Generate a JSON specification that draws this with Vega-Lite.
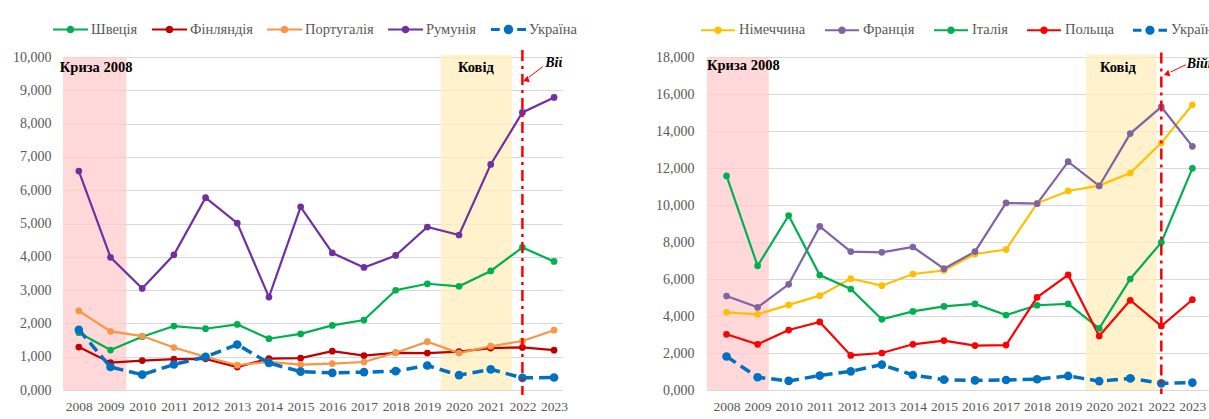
{
  "$schema": "https://vega.github.io/schema/vega-lite/v6.json",
  "background": "white",
  "padding": {"left": 12, "top": 12, "right": 0, "bottom": 0},
  "bounds": "flush",
  "spacing": 145,
  "config": {
    "font": "Liberation Serif",
    "view": {"stroke": null},
    "axis": {"labelFont": "Liberation Serif", "labelColor": "#595959", "labelFontSize": 14, "ticks": false, "domain": false, "title": null, "gridColor": "#D9D9D9", "gridWidth": 1, "labelOverlap": false}
  },
  "datasets": {
    "left": [
      {"year":2008,"series":"Швеція","value":1720},{"year":2009,"series":"Швеція","value":1200},{"year":2010,"series":"Швеція","value":1600},{"year":2011,"series":"Швеція","value":1920},{"year":2012,"series":"Швеція","value":1840},{"year":2013,"series":"Швеція","value":1970},{"year":2014,"series":"Швеція","value":1540},{"year":2015,"series":"Швеція","value":1685},{"year":2016,"series":"Швеція","value":1940},{"year":2017,"series":"Швеція","value":2100},{"year":2018,"series":"Швеція","value":2995},{"year":2019,"series":"Швеція","value":3190},{"year":2020,"series":"Швеція","value":3115},{"year":2021,"series":"Швеція","value":3575},{"year":2022,"series":"Швеція","value":4280},{"year":2023,"series":"Швеція","value":3860},
      {"year":2008,"series":"Фінляндія","value":1290},{"year":2009,"series":"Фінляндія","value":820},{"year":2010,"series":"Фінляндія","value":885},{"year":2011,"series":"Фінляндія","value":925},{"year":2012,"series":"Фінляндія","value":935},{"year":2013,"series":"Фінляндія","value":690},{"year":2014,"series":"Фінляндія","value":945},{"year":2015,"series":"Фінляндія","value":955},{"year":2016,"series":"Фінляндія","value":1165},{"year":2017,"series":"Фінляндія","value":1035},{"year":2018,"series":"Фінляндія","value":1115},{"year":2019,"series":"Фінляндія","value":1110},{"year":2020,"series":"Фінляндія","value":1155},{"year":2021,"series":"Фінляндія","value":1260},{"year":2022,"series":"Фінляндія","value":1280},{"year":2023,"series":"Фінляндія","value":1195},
      {"year":2008,"series":"Португалія","value":2375},{"year":2009,"series":"Португалія","value":1760},{"year":2010,"series":"Португалія","value":1620},{"year":2011,"series":"Португалія","value":1275},{"year":2012,"series":"Португалія","value":995},{"year":2013,"series":"Португалія","value":745},{"year":2014,"series":"Португалія","value":845},{"year":2015,"series":"Португалія","value":760},{"year":2016,"series":"Португалія","value":795},{"year":2017,"series":"Португалія","value":840},{"year":2018,"series":"Португалія","value":1120},{"year":2019,"series":"Португалія","value":1450},{"year":2020,"series":"Португалія","value":1110},{"year":2021,"series":"Португалія","value":1315},{"year":2022,"series":"Португалія","value":1470},{"year":2023,"series":"Португалія","value":1795},
      {"year":2008,"series":"Румунія","value":6575},{"year":2009,"series":"Румунія","value":3985},{"year":2010,"series":"Румунія","value":3050},{"year":2011,"series":"Румунія","value":4060},{"year":2012,"series":"Румунія","value":5775},{"year":2013,"series":"Румунія","value":5010},{"year":2014,"series":"Румунія","value":2790},{"year":2015,"series":"Румунія","value":5500},{"year":2016,"series":"Румунія","value":4115},{"year":2017,"series":"Румунія","value":3680},{"year":2018,"series":"Румунія","value":4040},{"year":2019,"series":"Румунія","value":4895},{"year":2020,"series":"Румунія","value":4655},{"year":2021,"series":"Румунія","value":6775},{"year":2022,"series":"Румунія","value":8335},{"year":2023,"series":"Румунія","value":8785},
      {"year":2008,"series":"Україна","value":1810},{"year":2009,"series":"Україна","value":690},{"year":2010,"series":"Україна","value":460},{"year":2011,"series":"Україна","value":765},{"year":2012,"series":"Україна","value":995},{"year":2013,"series":"Україна","value":1365},{"year":2014,"series":"Україна","value":810},{"year":2015,"series":"Україна","value":550},{"year":2016,"series":"Україна","value":515},{"year":2017,"series":"Україна","value":535},{"year":2018,"series":"Україна","value":565},{"year":2019,"series":"Україна","value":735},{"year":2020,"series":"Україна","value":445},{"year":2021,"series":"Україна","value":620},{"year":2022,"series":"Україна","value":365},{"year":2023,"series":"Україна","value":375}
    ],
    "right": [
      {"year":2008,"series":"Німеччина","value":4200},{"year":2009,"series":"Німеччина","value":4090},{"year":2010,"series":"Німеччина","value":4600},{"year":2011,"series":"Німеччина","value":5100},{"year":2012,"series":"Німеччина","value":6020},{"year":2013,"series":"Німеччина","value":5640},{"year":2014,"series":"Німеччина","value":6270},{"year":2015,"series":"Німеччина","value":6460},{"year":2016,"series":"Німеччина","value":7350},{"year":2017,"series":"Німеччина","value":7590},{"year":2018,"series":"Німеччина","value":10090},{"year":2019,"series":"Німеччина","value":10760},{"year":2020,"series":"Німеччина","value":11050},{"year":2021,"series":"Німеччина","value":11730},{"year":2022,"series":"Німеччина","value":13360},{"year":2023,"series":"Німеччина","value":15420},
      {"year":2008,"series":"Франція","value":5080},{"year":2009,"series":"Франція","value":4470},{"year":2010,"series":"Франція","value":5710},{"year":2011,"series":"Франція","value":8840},{"year":2012,"series":"Франція","value":7480},{"year":2013,"series":"Франція","value":7440},{"year":2014,"series":"Франція","value":7730},{"year":2015,"series":"Франція","value":6560},{"year":2016,"series":"Франція","value":7480},{"year":2017,"series":"Франція","value":10110},{"year":2018,"series":"Франція","value":10070},{"year":2019,"series":"Франція","value":12340},{"year":2020,"series":"Франція","value":11030},{"year":2021,"series":"Франція","value":13860},{"year":2022,"series":"Франція","value":15300},{"year":2023,"series":"Франція","value":13170},
      {"year":2008,"series":"Італія","value":11570},{"year":2009,"series":"Італія","value":6710},{"year":2010,"series":"Італія","value":9430},{"year":2011,"series":"Італія","value":6210},{"year":2012,"series":"Італія","value":5460},{"year":2013,"series":"Італія","value":3820},{"year":2014,"series":"Італія","value":4250},{"year":2015,"series":"Італія","value":4520},{"year":2016,"series":"Італія","value":4650},{"year":2017,"series":"Італія","value":4050},{"year":2018,"series":"Італія","value":4580},{"year":2019,"series":"Італія","value":4650},{"year":2020,"series":"Італія","value":3330},{"year":2021,"series":"Італія","value":6000},{"year":2022,"series":"Італія","value":7980},{"year":2023,"series":"Італія","value":11980},
      {"year":2008,"series":"Польща","value":3010},{"year":2009,"series":"Польща","value":2470},{"year":2010,"series":"Польща","value":3240},{"year":2011,"series":"Польща","value":3680},{"year":2012,"series":"Польща","value":1870},{"year":2013,"series":"Польща","value":2000},{"year":2014,"series":"Польща","value":2470},{"year":2015,"series":"Польща","value":2670},{"year":2016,"series":"Польща","value":2400},{"year":2017,"series":"Польща","value":2430},{"year":2018,"series":"Польща","value":5010},{"year":2019,"series":"Польща","value":6220},{"year":2020,"series":"Польща","value":2920},{"year":2021,"series":"Польща","value":4850},{"year":2022,"series":"Польща","value":3460},{"year":2023,"series":"Польща","value":4880},
      {"year":2008,"series":"Україна","value":1810},{"year":2009,"series":"Україна","value":690},{"year":2010,"series":"Україна","value":490},{"year":2011,"series":"Україна","value":780},{"year":2012,"series":"Україна","value":1010},{"year":2013,"series":"Україна","value":1370},{"year":2014,"series":"Україна","value":810},{"year":2015,"series":"Україна","value":560},{"year":2016,"series":"Україна","value":520},{"year":2017,"series":"Україна","value":540},{"year":2018,"series":"Україна","value":580},{"year":2019,"series":"Україна","value":760},{"year":2020,"series":"Україна","value":480},{"year":2021,"series":"Україна","value":630},{"year":2022,"series":"Україна","value":360},{"year":2023,"series":"Україна","value":400}
    ]
  },
  "resolve": {"scale": {"x": "independent", "y": "independent", "color": "independent"}, "legend": {"color": "independent"}},
  "hconcat": [
    {
      "width": 499,
      "height": 333,
      "encoding": {
        "x": {"field": "year", "type": "quantitative", "scale": {"domain": [2007.5, 2023.25], "nice": false, "zero": false},
              "axis": {"values": [2008,2009,2010,2011,2012,2013,2014,2015,2016,2017,2018,2019,2020,2021,2022,2023], "tickCount": 30, "format": "d", "grid": false, "labelPadding": 9, "labelFontSize": 13.5, "labelFlush": false, "labelOverlap": false, "labelBound": false}},
        "y": {"field": "value", "type": "quantitative", "scale": {"domain": [0, 10000], "nice": false},
              "axis": {"values": [0,1000,2000,3000,4000,5000,6000,7000,8000,9000,10000], "tickCount": 30, "format": "05,d", "grid": true, "labelPadding": 12, "labelOverlap": false}}
      },
      "layer": [
        {
          "data": {"values": [{"year": 2007.5, "year2": 2009.5, "value": 0, "value2": 10000}]},
          "mark": {"type": "rect", "fill": "#FFCCCC", "fillOpacity": 0.75},
          "encoding": {"x2": {"field": "year2"}, "y2": {"field": "value2"}}
        },
        {
          "data": {"values": [{"year": 2019.42, "year2": 2021.67, "value": 0, "value2": 10070}]},
          "mark": {"type": "rect", "fill": "#FFEEBB", "fillOpacity": 0.75},
          "encoding": {"x2": {"field": "year2"}, "y2": {"field": "value2"}}
        },
        {
          "data": {"name": "left"},
          "transform": [{"filter": "datum.series !== 'Україна'"}],
          "mark": {"type": "line", "strokeWidth": 2.2},
          "encoding": {
            "color": {"field": "series", "type": "nominal",
              "scale": {"domain": ["Швеція","Фінляндія","Португалія","Румунія","Україна"], "range": ["#00B050","#C00000","#F79646","#7030A0","#0070C0"]},
              "legend": {
                "orient": "none", "legendX": -10, "legendY": -45, "direction": "horizontal", "title": null,
                "symbolType": "M-1,-0.06H1V0.06H-1ZM-0.22,0A0.22,0.22,0,1,1,0.22,0A0.22,0.22,0,1,1,-0.22,0Z",
                "symbolSize": 1225, "symbolStrokeWidth": 0, "symbolOpacity": 1,
                "labelFont": "Liberation Serif", "labelFontSize": 14.5, "labelColor": "#595959",
                "labelOffset": 3, "columnPadding": 14, "padding": 0,
                "encode": {"symbols": {"update": {
                  "shape": {"signal": "datum.value === 'Україна' ? 'M-1,-0.09H-0.5V0.09H-1ZM0.5,-0.09H1V0.09H0.5ZM-0.27,0A0.27,0.27,0,1,1,0.27,0A0.27,0.27,0,1,1,-0.27,0Z' : 'M-1,-0.06H1V0.06H-1ZM-0.22,0A0.22,0.22,0,1,1,0.22,0A0.22,0.22,0,1,1,-0.22,0Z'"},
                  "fill": {"signal": "{'Швеція':'#00B050','Фінляндія':'#C00000','Португалія':'#F79646','Румунія':'#7030A0','Україна':'#0070C0'}[datum.value]"},
                  "strokeWidth": {"value": 0},
                  "opacity": {"value": 1}
                }}}
              }
            }
          }
        },
        {
          "data": {"name": "left"},
          "transform": [{"filter": "datum.series !== 'Україна'"}],
          "mark": {"type": "point", "filled": true, "size": 45, "opacity": 1},
          "encoding": {"color": {"field": "series", "type": "nominal"}}
        },
        {
          "data": {"name": "left"},
          "transform": [{"filter": "datum.series === 'Україна'"}],
          "mark": {"type": "line", "strokeWidth": 3.5, "strokeDash": [11, 6]},
          "encoding": {"color": {"field": "series", "type": "nominal"}}
        },
        {
          "data": {"name": "left"},
          "transform": [{"filter": "datum.series === 'Україна'"}],
          "mark": {"type": "point", "filled": true, "size": 75, "opacity": 1},
          "encoding": {"color": {"field": "series", "type": "nominal"}}
        },
        {
          "data": {"values": [{"year": 2022, "value": 10210, "value2": -150}]},
          "mark": {"type": "rule", "color": "#FF0000", "strokeWidth": 2.5, "strokeDash": [11, 5, 3, 5]},
          "encoding": {"y2": {"field": "value2"}}
        },
        {
          "data": {"values": [{"year": 2022.64, "year2": 2022.2, "value": 9710, "value2": 9390}]},
          "mark": {"type": "rule", "color": "#FF0000", "strokeWidth": 1},
          "encoding": {"x2": {"field": "year2"}, "y2": {"field": "value2"}}
        },
        {
          "data": {"values": [{"year": 2022.14, "value": 9320}]},
          "mark": {"type": "point", "shape": "triangle", "filled": true, "color": "#FF0000", "size": 45, "angle": 250, "opacity": 1},
          "encoding": {}
        },
        {
          "data": {"values": [{"year": 2007.4, "value": 9670, "t": "Криза 2008"}]},
          "mark": {"type": "text", "align": "left", "baseline": "middle", "font": "Liberation Serif", "fontWeight": "bold", "fontSize": 14.5, "color": "#000000"},
          "encoding": {"text": {"field": "t"}}
        },
        {
          "data": {"values": [{"year": 2020.53, "value": 9670, "t": "Ковід"}]},
          "mark": {"type": "text", "align": "center", "baseline": "middle", "font": "Liberation Serif", "fontWeight": "bold", "fontSize": 14.5, "color": "#000000"},
          "encoding": {"text": {"field": "t"}}
        },
        {
          "data": {"values": [{"year": 2022.72, "value": 9820, "t": "Війна"}]},
          "mark": {"type": "text", "align": "left", "baseline": "middle", "font": "Liberation Serif", "fontWeight": "bold", "fontStyle": "italic", "fontSize": 14, "color": "#000000", "clip": true},
          "encoding": {"text": {"field": "t"}}
        }
      ]
    },
    {
      "width": 504,
      "height": 333,
      "encoding": {
        "x": {"field": "year", "type": "quantitative", "scale": {"domain": [2007.37, 2023.6], "nice": false, "zero": false},
              "axis": {"values": [2008,2009,2010,2011,2012,2013,2014,2015,2016,2017,2018,2019,2020,2021,2022,2023], "tickCount": 30, "format": "d", "grid": false, "labelPadding": 9, "labelFontSize": 13.5, "labelFlush": false, "labelOverlap": false, "labelBound": false}},
        "y": {"field": "value", "type": "quantitative", "scale": {"domain": [0, 18000], "nice": false},
              "axis": {"values": [0,2000,4000,6000,8000,10000,12000,14000,16000,18000], "tickCount": 30, "format": "05,d", "grid": true, "labelPadding": 13, "labelOverlap": false}}
      },
      "layer": [
        {
          "data": {"values": [{"year": 2007.37, "year2": 2009.36, "value": 0, "value2": 18000}]},
          "mark": {"type": "rect", "fill": "#FFCCCC", "fillOpacity": 0.75},
          "encoding": {"x2": {"field": "year2"}, "y2": {"field": "value2"}}
        },
        {
          "data": {"values": [{"year": 2019.57, "year2": 2021.85, "value": 0, "value2": 18130}]},
          "mark": {"type": "rect", "fill": "#FFEEBB", "fillOpacity": 0.75},
          "encoding": {"x2": {"field": "year2"}, "y2": {"field": "value2"}}
        },
        {
          "data": {"name": "right"},
          "transform": [{"filter": "datum.series !== 'Україна'"}],
          "mark": {"type": "line", "strokeWidth": 2.2},
          "encoding": {
            "color": {"field": "series", "type": "nominal",
              "scale": {"domain": ["Німеччина","Франція","Італія","Польща","Україна"], "range": ["#FFC000","#8064A2","#00B050","#FF0000","#0070C0"]},
              "legend": {
                "orient": "none", "legendX": -6, "legendY": -44, "direction": "horizontal", "title": null,
                "symbolType": "M-1,-0.06H1V0.06H-1ZM-0.22,0A0.22,0.22,0,1,1,0.22,0A0.22,0.22,0,1,1,-0.22,0Z",
                "symbolSize": 1156, "symbolStrokeWidth": 0, "symbolOpacity": 1,
                "labelFont": "Liberation Serif", "labelFontSize": 14.5, "labelColor": "#595959",
                "labelOffset": 4, "columnPadding": 19, "padding": 0,
                "encode": {"symbols": {"update": {
                  "shape": {"signal": "datum.value === 'Україна' ? 'M-1,-0.09H-0.5V0.09H-1ZM0.5,-0.09H1V0.09H0.5ZM-0.27,0A0.27,0.27,0,1,1,0.27,0A0.27,0.27,0,1,1,-0.27,0Z' : 'M-1,-0.06H1V0.06H-1ZM-0.22,0A0.22,0.22,0,1,1,0.22,0A0.22,0.22,0,1,1,-0.22,0Z'"},
                  "fill": {"signal": "{'Німеччина':'#FFC000','Франція':'#8064A2','Італія':'#00B050','Польща':'#FF0000','Україна':'#0070C0'}[datum.value]"},
                  "strokeWidth": {"value": 0},
                  "opacity": {"value": 1}
                }}}
              }
            }
          }
        },
        {
          "data": {"name": "right"},
          "transform": [{"filter": "datum.series !== 'Україна'"}],
          "mark": {"type": "point", "filled": true, "size": 45, "opacity": 1},
          "encoding": {"color": {"field": "series", "type": "nominal"}}
        },
        {
          "data": {"name": "right"},
          "transform": [{"filter": "datum.series === 'Україна'"}],
          "mark": {"type": "line", "strokeWidth": 3.5, "strokeDash": [11, 6]},
          "encoding": {"color": {"field": "series", "type": "nominal"}}
        },
        {
          "data": {"name": "right"},
          "transform": [{"filter": "datum.series === 'Україна'"}],
          "mark": {"type": "point", "filled": true, "size": 75, "opacity": 1},
          "encoding": {"color": {"field": "series", "type": "nominal"}}
        },
        {
          "data": {"values": [{"year": 2022, "value": 18240, "value2": -220}]},
          "mark": {"type": "rule", "color": "#FF0000", "strokeWidth": 2.5, "strokeDash": [11, 5, 3, 5]},
          "encoding": {"y2": {"field": "value2"}}
        },
        {
          "data": {"values": [{"year": 2022.79, "year2": 2022.3, "value": 17580, "value2": 17190}]},
          "mark": {"type": "rule", "color": "#FF0000", "strokeWidth": 1},
          "encoding": {"x2": {"field": "year2"}, "y2": {"field": "value2"}}
        },
        {
          "data": {"values": [{"year": 2022.2, "value": 17100}]},
          "mark": {"type": "point", "shape": "triangle", "filled": true, "color": "#FF0000", "size": 45, "angle": 250, "opacity": 1},
          "encoding": {}
        },
        {
          "data": {"values": [{"year": 2007.37, "value": 17510, "t": "Криза 2008"}]},
          "mark": {"type": "text", "align": "left", "baseline": "middle", "font": "Liberation Serif", "fontWeight": "bold", "fontSize": 14.5, "color": "#000000"},
          "encoding": {"text": {"field": "t"}}
        },
        {
          "data": {"values": [{"year": 2020.6, "value": 17400, "t": "Ковід"}]},
          "mark": {"type": "text", "align": "center", "baseline": "middle", "font": "Liberation Serif", "fontWeight": "bold", "fontSize": 14.5, "color": "#000000"},
          "encoding": {"text": {"field": "t"}}
        },
        {
          "data": {"values": [{"year": 2022.82, "value": 17640, "t": "Війна"}]},
          "mark": {"type": "text", "align": "left", "baseline": "middle", "font": "Liberation Serif", "fontWeight": "bold", "fontStyle": "italic", "fontSize": 14, "color": "#000000", "clip": true},
          "encoding": {"text": {"field": "t"}}
        }
      ]
    }
  ]
}
